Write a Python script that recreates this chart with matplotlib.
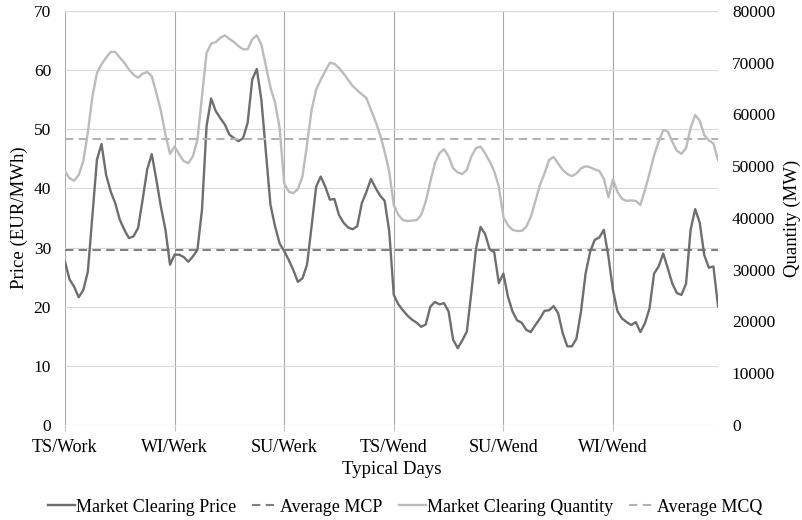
import numpy as np
import matplotlib
matplotlib.use("Agg")
import matplotlib.pyplot as plt

plt.rcParams['font.family'] = ['Liberation Serif', 'DejaVu Serif']

# ---- data -------------------------------------------------------------
day_labels = ["TS/Work", "WI/Werk", "SU/Werk", "TS/Wend", "SU/Wend", "WI/Wend"]

price_d1 = [27.6, 24.6, 23.4, 21.6, 22.8, 25.9, 35.3, 44.9, 47.5, 42.3, 39.5, 37.5,
            34.7, 33.0, 31.6, 31.9, 33.3, 38.1, 43.2, 45.8, 41.5, 36.9, 33.0, 27.1]
price_d2 = [28.8, 28.8, 28.4, 27.6, 28.5, 29.6, 36.4, 50.5, 55.2, 53.1, 51.9, 50.8,
            49.1, 48.5, 48.0, 48.5, 51.1, 58.4, 60.2, 55.0, 46.0, 37.2, 33.6, 30.7]
price_d3 = [29.4, 27.9, 26.2, 24.2, 24.8, 27.1, 33.6, 40.3, 42.0, 40.3, 38.1, 38.2,
            35.5, 34.2, 33.4, 33.1, 33.6, 37.5, 39.4, 41.6, 40.1, 38.8, 37.9, 32.8]
price_d4 = [22.0, 20.4, 19.4, 18.5, 17.8, 17.3, 16.6, 17.0, 20.0, 20.8, 20.4, 20.6,
            19.2, 14.4, 13.0, 14.3, 15.8, 22.5, 29.8, 33.5, 32.3, 29.7, 29.2, 24.0]
price_d5 = [25.6, 21.7, 19.2, 17.7, 17.3, 16.1, 15.7, 16.9, 18.0, 19.3, 19.4, 20.1,
            18.9, 15.5, 13.3, 13.3, 14.6, 19.2, 25.6, 29.3, 31.3, 31.7, 33.0, 28.5]
price_d6 = [22.8, 19.2, 18.0, 17.4, 16.9, 17.4, 15.7, 17.2, 19.7, 25.6, 26.8, 29.0,
            26.5, 23.9, 22.3, 22.0, 23.9, 33.0, 36.5, 34.2, 28.7, 26.6, 26.8, 20.1]

qty_d1 = [49000, 47700, 47200, 48300, 51000, 56500, 63500, 68000, 69700, 71000, 72100, 72100,
          71000, 70000, 68700, 67700, 67100, 67900, 68200, 67400, 64200, 60700, 56100, 52400]
qty_d2 = [53800, 52300, 51000, 50600, 51900, 55100, 63500, 71900, 73700, 74000, 74800, 75300,
          74600, 74000, 73200, 72600, 72600, 74500, 75300, 73500, 69400, 65200, 62300, 57400]
qty_d3 = [46700, 45100, 44800, 45600, 48000, 54200, 60900, 64800, 66700, 68400, 70000, 69800,
          69000, 67900, 66700, 65500, 64700, 63900, 63200, 60900, 58700, 56100, 52800, 49000]
qty_d4 = [42500, 40600, 39600, 39400, 39500, 39600, 40600, 43200, 47000, 50600, 52500, 53300,
          51900, 49600, 48800, 48500, 49300, 51900, 53500, 53800, 52500, 50900, 49000, 46100]
qty_d5 = [40200, 38600, 37700, 37500, 37500, 38300, 40200, 43200, 46400, 48600, 51200, 51800,
          50500, 49300, 48500, 48100, 48600, 49600, 50000, 49800, 49400, 49100, 47600, 44000]
qty_d6 = [47500, 45000, 43700, 43300, 43400, 43300, 42500, 45400, 48600, 52100, 54700, 57000,
          56700, 54700, 53000, 52400, 53500, 57400, 59900, 58800, 56000, 55000, 54400, 51200]

avg_mcp = 29.6
avg_mcq = 55300

price = np.concatenate([price_d1, price_d2, price_d3, price_d4, price_d5, price_d6])
qty = np.concatenate([qty_d1, qty_d2, qty_d3, qty_d4, qty_d5, qty_d6])
hours = np.arange(len(price))
hours_per_day = len(price_d1)

# ---- figure -----------------------------------------------------------
fig = plt.figure(figsize=(8.03, 5.20), dpi=100)
ax = fig.add_axes([65/803, (520-425)/520, 653/803, 414/520])
ax2 = ax.twinx()

c_price = '#6e6e6e'
c_mcp = '#808080'
c_qty = '#bbbbbb'
c_mcq = '#b3b3b3'

ax.set_xlim(0, len(price) - 1)
ax.set_ylim(0, 70)
ax2.set_ylim(0, 80000)

# gridlines
ax.set_yticks(np.arange(0, 71, 10))
ax2.set_yticks(np.arange(0, 80001, 10000))
ax.yaxis.grid(True, color='#d9d9d9', lw=0.8)
day_starts = np.arange(0, len(price), hours_per_day)
ax.set_xticks(day_starts)
ax.set_xticklabels(day_labels)
ax.xaxis.grid(True, color='#a8a8a8', lw=0.8)
ax.set_axisbelow(True)

for s in ax.spines.values():
    s.set_visible(False)
for s in ax2.spines.values():
    s.set_visible(False)

ax.tick_params(axis='y', length=0, pad=10, labelsize=12.5)
ax2.tick_params(axis='y', length=0, pad=10, labelsize=12.5)
ax.tick_params(axis='x', length=4, color='#c0c0c0', width=0.8, pad=6, labelsize=13)

# lines
l1, = ax.plot(hours, price, color=c_price, lw=1.7, label='Market Clearing Price', zorder=3)
l2 = ax.axhline(avg_mcp, color=c_mcp, lw=1.5, ls=(0, (4.0, 2.6)), label='Average MCP', zorder=2)
l3, = ax2.plot(hours, qty, color=c_qty, lw=1.7, label='Market Clearing Quantity', zorder=3)
l4 = ax2.axhline(avg_mcq, color=c_mcq, lw=1.5, ls=(0, (4.0, 2.6)), label='Average MCQ', zorder=2)

# labels
ax.set_xlabel('Typical Days', fontsize=13.5)
ax.xaxis.set_label_coords(0.5, (425-461)/414)
ax.set_ylabel('Price (EUR/MWh)', fontsize=13.5)
ax.yaxis.set_label_coords((28-65)/653, 0.5)
ax2.set_ylabel('Quantity (MW)', fontsize=13.5)
ax2.yaxis.set_label_coords((784-65)/653, 0.5)

fig.legend(handles=[l1, l2, l3, l4], loc='center', bbox_to_anchor=(405/803, (520-507)/520),
           ncol=4, frameon=False, fontsize=13, handlelength=1.5, handletextpad=0.05,
           columnspacing=0.9, borderpad=0)

fig.savefig('out.png', dpi=100)
